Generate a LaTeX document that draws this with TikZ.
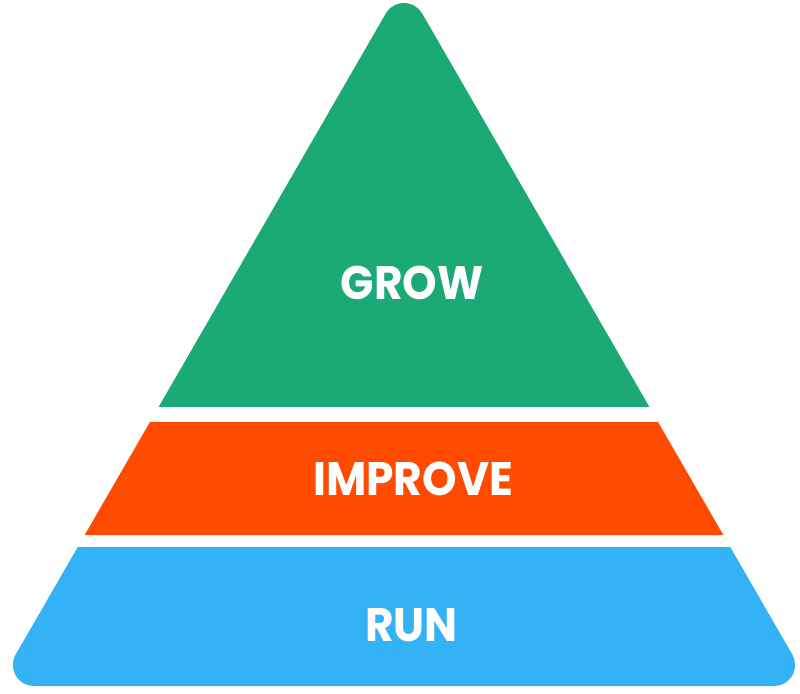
\documentclass[tikz,border=0pt]{standalone}
\usepackage{fontspec}
\setmainfont{Poppins}
\definecolor{growgreen}{RGB}{27,170,117}
\definecolor{improveorange}{RGB}{255,75,0}
\definecolor{runblue}{RGB}{51,178,245}
\newcommand{\narrowtxt}[1]{\scalebox{0.935}[1]{#1}}
\begin{document}
\begin{tikzpicture}[x=1pt,y=1pt,
  label/.style={text=white,inner sep=0pt,font=\fontsize{47}{47}\selectfont\bfseries}]
\useasboundingbox (0,0) rectangle (800,-693);
% GROW layer with rounded apex
\fill[growgreen] (158.6,-407) -- (385.8,-13.5)
  arc[start angle=150,end angle=30,radius=21pt] -- (649.4,-407) -- cycle;
% IMPROVE layer
\fill[improveorange] (150,-422) -- (658,-422) -- (723.3,-535) -- (84.7,-535) -- cycle;
% RUN layer with rounded bottom corners
\fill[runblue] (77.8,-547) -- (15.7,-654.5)
  arc[start angle=150,end angle=270,radius=21pt] -- (774.1,-686)
  arc[start angle=270,end angle=390,radius=21pt] -- (730.2,-547) -- cycle;
\node[label] (grow) at (412,-283) {\narrowtxt{GROW}};
\node[label] (improve) at (413,-479) {\narrowtxt{IMPROVE}};
\node[label] (run) at (411.5,-625) {\narrowtxt{RUN}};
\end{tikzpicture}
\end{document}
